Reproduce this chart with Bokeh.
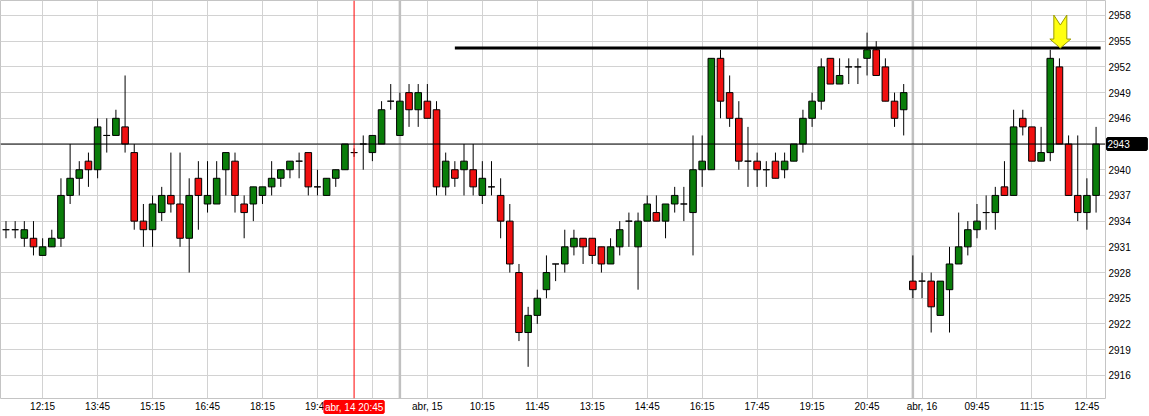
from bokeh.plotting import figure
from bokeh.models import Range1d, FixedTicker, Span, Label, ColumnDataSource
from bokeh.embed import file_html
from bokeh.resources import INLINE

# ---- data (15-minute candles, index based) ----
opens = [2933, 2933, 2932, 2932, 2930, 2931, 2932, 2937, 2939, 2941,
         2940, 2944, 2944, 2945, 2942, 2934, 2933, 2935, 2937, 2936,
         2932, 2939, 2936, 2936, 2940, 2941, 2936, 2936, 2937, 2938,
         2939, 2940, 2941, 2942, 2938, 2937, 2939, 2940, 2942, 2943,
         2942, 2943, 2948, 2944, 2949, 2947, 2948, 2947, 2938, 2940,
         2940, 2940, 2937, 2938, 2937, 2934, 2928, 2921, 2923, 2926,
         2929, 2929, 2931, 2932, 2932, 2931, 2929, 2931, 2934, 2931,
         2934, 2935, 2934, 2936, 2936, 2935, 2940, 2940, 2953, 2949,
         2946, 2941, 2941, 2940, 2941, 2940, 2941, 2943, 2946, 2948,
         2953, 2950, 2952, 2952, 2953, 2954, 2952, 2948, 2947, 2927,
         2927, 2927, 2923, 2926, 2929, 2931, 2933, 2935, 2935, 2938,
         2937, 2946, 2945, 2941, 2942, 2952, 2943, 2937, 2935, 2937]
highs = [2934, 2934, 2934, 2934, 2932, 2933, 2939, 2943, 2941, 2942,
         2946, 2946, 2947, 2951, 2943, 2936, 2937, 2938, 2942, 2942,
         2939, 2941, 2941, 2941, 2942, 2942, 2937, 2938, 2938, 2941,
         2940, 2941, 2942, 2942, 2940, 2939, 2940, 2943, 2942.5, 2944,
         2944, 2948, 2950, 2949, 2950, 2950, 2950, 2948, 2942, 2941,
         2943, 2943, 2941, 2941, 2939, 2936, 2929, 2924, 2926, 2930,
         2929, 2933, 2933, 2932, 2932, 2931, 2932, 2934, 2935, 2935,
         2937, 2937, 2936, 2938, 2938, 2944, 2944, 2953, 2954, 2951,
         2948, 2945, 2942, 2941, 2942, 2942, 2943, 2947, 2949, 2953,
         2953, 2953, 2953, 2953, 2956, 2955, 2953, 2949, 2950, 2930,
         2928, 2928, 2927, 2931, 2935, 2934, 2936, 2937, 2938, 2941,
         2947, 2947, 2945, 2945, 2954, 2953, 2944, 2944, 2939, 2945]
lows = [2932, 2932, 2931, 2930, 2930, 2931, 2931, 2936, 2937, 2938,
        2939, 2942, 2944, 2942, 2933, 2931, 2931, 2934, 2935, 2931,
        2928, 2933, 2935, 2936, 2937, 2935, 2932, 2934, 2936, 2937,
        2938, 2939, 2939, 2937, 2937, 2937, 2938, 2940, 2941.5, 2940,
        2941, 2943, 2947, 2944, 2945, 2945, 2946, 2937, 2937, 2938,
        2937, 2937, 2936, 2937, 2932, 2928, 2920, 2917, 2922, 2925,
        2927, 2928, 2930, 2929, 2929, 2928, 2929, 2930, 2931, 2926,
        2934, 2934, 2932, 2935, 2934, 2930, 2938, 2940, 2946, 2945,
        2940, 2938, 2938, 2938, 2939, 2939, 2941, 2942, 2945, 2947,
        2950, 2950, 2950, 2950, 2951, 2951, 2948, 2945, 2944, 2925,
        2925, 2921, 2923, 2921, 2929, 2930, 2932, 2933, 2933, 2937,
        2937, 2944, 2941, 2941, 2941, 2943, 2937, 2934, 2933, 2935]
closes = [2933, 2933, 2933, 2931, 2931, 2932, 2937, 2939, 2940, 2940,
          2945, 2944, 2946, 2943, 2934, 2933, 2936, 2937, 2936, 2932,
          2937, 2937, 2937, 2939, 2942, 2937, 2935, 2938, 2938, 2939,
          2940, 2941, 2941, 2938, 2938, 2939, 2940, 2943, 2942, 2943,
          2944, 2947, 2948, 2948, 2947, 2949, 2946, 2938, 2941, 2939,
          2941, 2938, 2939, 2938, 2934, 2929, 2921, 2923, 2925, 2928,
          2929, 2931, 2932, 2931, 2930, 2929, 2931, 2933, 2934, 2934,
          2936, 2934, 2936, 2937, 2936, 2940, 2941, 2953, 2948, 2946,
          2941, 2941, 2940, 2940, 2939, 2941, 2943, 2946, 2948, 2952,
          2950, 2951, 2952, 2952, 2954, 2951, 2948, 2946, 2949, 2926,
          2927, 2924, 2927, 2929, 2931, 2933, 2934, 2935, 2937, 2937,
          2945, 2945, 2941, 2942, 2953, 2943, 2937, 2935, 2937, 2943]

x_tick_positions = [4, 10, 16, 22, 28, 34, 40, 46, 52, 58, 64, 70, 76, 82, 88,
                    94, 100, 106, 112, 118]
x_tick_labels = ["12:15", "13:45", "15:15", "16:45", "18:15", "19:45", "",
                 "abr, 15", "10:15", "11:45", "13:15", "14:45", "16:15",
                 "17:45", "19:15", "20:45", "abr, 16", "09:45", "11:15", "12:45"]
y_ticks = [2916, 2919, 2922, 2925, 2928, 2931, 2934, 2937, 2940, 2943,
           2946, 2949, 2952, 2955, 2958]

day_starts = [43, 99]           # first candle of abr,15 and abr,16
cursor_index = 38               # red cursor line (abr, 14 20:45)
cursor_label = "abr, 14 20:45"
last_price = 2943
resistance_level = 2954.2
resistance_from = 49
resistance_to = 119.5
arrow_index = 115.1
arrow_tip = 2954.2

# ---- figure ----
x_start, x_end = -0.6, 120.03
y_start, y_end = 2913.3, 2959.75
W, H = 1149, 416
RB, BB = 44, 18
p = figure(width=W, height=H, output_backend="svg", toolbar_location=None,
           x_range=Range1d(x_start, x_end), y_range=Range1d(y_start, y_end),
           x_axis_location="below", y_axis_location="right",
           min_border_left=0, min_border_top=0, min_border_right=RB,
           min_border_bottom=BB)
p.background_fill_color = "white"
p.border_fill_color = "white"
p.outline_line_color = "#c4c4c4"

font = "Liberation Sans"
FS = "10px"
PAD = " " * 6   # widens the black price box to the right

# labels placed in the side panels (so they can sit over the axis areas)
cursor_lbl = Label(x=cursor_index, y=y_start, text=cursor_label, anchor="top_center",
                   y_offset=-3, text_font=font, text_font_size=FS,
                   text_color="white", background_fill_color="#ff0000",
                   border_line_color="#ff0000", border_line_width=3)
price_lbl = Label(x=x_end, y=last_price, text=str(last_price) + PAD,
                  anchor="center_left", x_offset=2, text_font=font,
                  text_font_size=FS, text_color="white",
                  background_fill_color="black", border_line_color="black",
                  border_line_width=3)

xa = p.xaxis[0]
xa.ticker = FixedTicker(ticks=x_tick_positions)
xa.major_label_overrides = {t: l for t, l in zip(x_tick_positions, x_tick_labels)}
xa.major_tick_out = 0
xa.major_tick_in = 0
xa.minor_tick_out = 0
xa.minor_tick_in = 0
xa.axis_line_color = None
xa.major_label_standoff = -9
xa.major_label_text_font = font
xa.major_label_text_font_size = FS
xa.major_label_text_color = "black"

ya = p.yaxis[0]
ya.ticker = FixedTicker(ticks=y_ticks)
ya.major_label_overrides = {last_price: ""}
ya.major_tick_out = 0
ya.major_tick_in = 0
ya.minor_tick_out = 0
ya.minor_tick_in = 0
ya.axis_line_color = None
ya.major_label_standoff = -36
ya.major_label_text_font = font
ya.major_label_text_font_size = FS
ya.major_label_text_color = "black"

p.below = [cursor_lbl, xa]
p.right = [price_lbl, ya]

p.xgrid.ticker = FixedTicker(ticks=x_tick_positions)
p.ygrid.ticker = FixedTicker(ticks=y_ticks)
p.xgrid.grid_line_color = "#d2d2d2"
p.ygrid.grid_line_color = "#d2d2d2"

for d in day_starts:
    p.add_layout(Span(location=d, dimension="height", line_color="#c0c0c0",
                      line_width=2.5, level="underlay"))

idx = list(range(len(opens)))
up = [c >= o for o, c in zip(opens, closes)]
src = ColumnDataSource(dict(
    x=idx, o=opens, h=highs, l=lows, c=closes,
    top=[max(o, c) for o, c in zip(opens, closes)],
    bottom=[min(o, c) for o, c in zip(opens, closes)],
    color=["#0a7d0a" if u else "#f01010" for u in up],
))
p.segment(x0="x", y0="l", x1="x", y1="h", source=src, line_color="black",
          line_width=1)
p.vbar(x="x", top="top", bottom="bottom", width=0.72, source=src,
       fill_color="color", line_color="black", line_width=1)

p.add_layout(Span(location=last_price, dimension="width", line_color="black",
                  line_width=1))
p.segment(x0=[cursor_index], y0=[y_start], x1=[cursor_index], y1=[y_end],
          line_color="#ff0000", line_width=1)
p.segment(x0=[resistance_from], y0=[resistance_level], x1=[resistance_to],
          y1=[resistance_level], line_color="black", line_width=3)

# yellow arrow marker pointing at the resistance touch
px_x = (x_end - x_start) / (W - RB)
px_y = (y_end - y_start) / (H - BB)
shape = [(0, 0), (10.5, 9), (6.5, 9), (6.5, 33), (0, 23), (-6.5, 33),
         (-6.5, 9), (-10.5, 9)]
p.patch([arrow_index + dx * px_x for dx, dy in shape],
        [arrow_tip + dy * px_y for dx, dy in shape],
        fill_color="#ffff10", line_color="#9a9a00", line_width=1)

open("out.html", "w").write(file_html(p, INLINE))
